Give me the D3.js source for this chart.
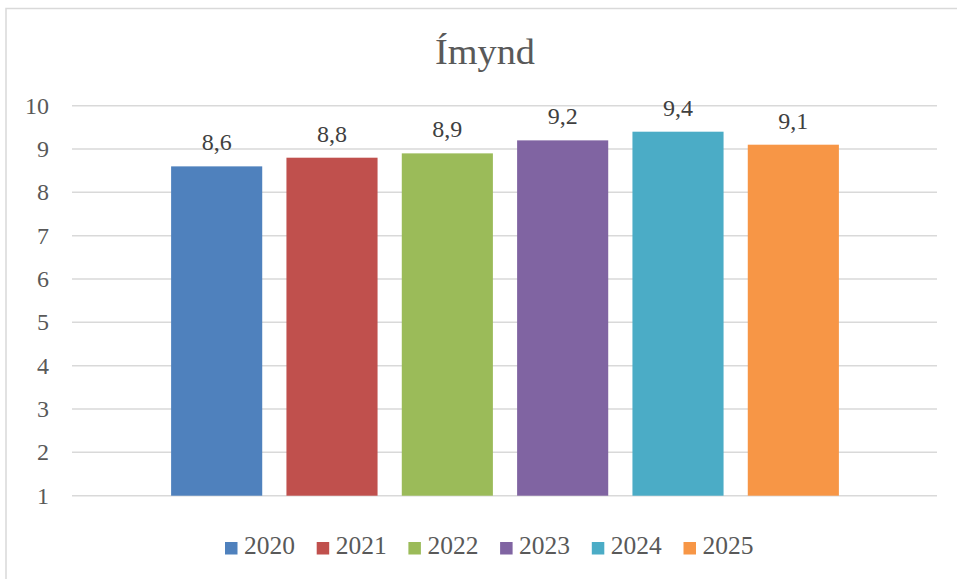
<!DOCTYPE html>
<html>
<head>
<meta charset="utf-8">
<script src="https://cdn.jsdelivr.net/npm/d3@7"></script>
<style>
    body { margin: 0; background: #fff; }
    text { font-family: "Liberation Serif", "DejaVu Serif", serif; fill: #595959; }
    .chart-title { font-size: 35px; }
    .tick-label { font-size: 24px; }
    .bar-label { font-size: 24px; fill: #404040; }
    .legend-label { font-size: 25px; }
</style>
</head>
<body>
<script>
// Chart data
const years = ["2020", "2021", "2022", "2023", "2024", "2025"];
const scores = [8.6, 8.8, 8.9, 9.2, 9.4, 9.1];
const yTicks = [1, 2, 3, 4, 5, 6, 7, 8, 9, 10];
const colors = ["#4F81BD", "#C0504D", "#9BBB59", "#8064A2", "#4BACC6", "#F79646"];

const width = 957;
const height = 579;

const svg = d3.select("body")
    .append("svg")
    .attr("width", width)
    .attr("height", height);

// Chart border (runs off the right and bottom edges)
svg.append("rect")
    .attr("x", 6)
    .attr("y", 8.5)
    .attr("width", 1000)
    .attr("height", 600)
    .attr("fill", "none")
    .attr("stroke", "#d9d9d9")
    .attr("stroke-width", 1.5);

// Scales
const yScale = d3.scaleLinear()
    .domain([1, 10])
    .range([495.7, 105.7]);

const xScale = d3.scaleBand()
    .domain(years)
    .range([159, 851])
    .paddingInner(0.21)
    .paddingOuter(0.105);

const colorScale = d3.scaleOrdinal()
    .domain(years)
    .range(colors);

// Gridlines
svg.append("g")
    .selectAll("line")
    .data(yTicks)
    .join("line")
    .attr("x1", 72)
    .attr("x2", 937)
    .attr("y1", d => yScale(d))
    .attr("y2", d => yScale(d))
    .attr("stroke", "#d9d9d9")
    .attr("stroke-width", 1.5);

// Y tick labels
svg.append("g")
    .selectAll("text")
    .data(yTicks)
    .join("text")
    .attr("class", "tick-label")
    .attr("x", 49)
    .attr("y", d => yScale(d))
    .attr("dy", "0.33em")
    .attr("text-anchor", "end")
    .text(d => d);

// Bars
svg.append("g")
    .selectAll("rect")
    .data(years)
    .join("rect")
    .attr("x", d => xScale(d))
    .attr("width", xScale.bandwidth())
    .attr("y", (d, i) => yScale(scores[i]))
    .attr("height", (d, i) => yScale(1) - yScale(scores[i]))
    .attr("fill", d => colorScale(d));

// Value labels (comma decimal)
svg.append("g")
    .selectAll("text")
    .data(years)
    .join("text")
    .attr("class", "bar-label")
    .attr("x", d => xScale(d) + xScale.bandwidth() / 2)
    .attr("y", (d, i) => yScale(scores[i]) - 16)
    .attr("text-anchor", "middle")
    .text((d, i) => scores[i].toFixed(1).replace(".", ","));

// Title
svg.append("text")
    .attr("class", "chart-title")
    .attr("x", 485)
    .attr("y", 64)
    .attr("text-anchor", "middle")
    .attr("textLength", 100)
    .attr("lengthAdjust", "spacingAndGlyphs")
    .text("Ímynd");

// Legend
const legendX = d3.scalePoint()
    .domain(years)
    .range([225, 683.5]);

const legend = svg.append("g")
    .selectAll("g")
    .data(years)
    .join("g")
    .attr("transform", d => `translate(${legendX(d)}, 542)`);

legend.append("rect")
    .attr("width", 12.5)
    .attr("height", 12.5)
    .attr("fill", d => colorScale(d));

legend.append("text")
    .attr("class", "legend-label")
    .attr("x", 19)
    .attr("y", 12.3)
    .attr("textLength", 51)
    .attr("lengthAdjust", "spacingAndGlyphs")
    .text(d => d);
</script>
</body>
</html>
